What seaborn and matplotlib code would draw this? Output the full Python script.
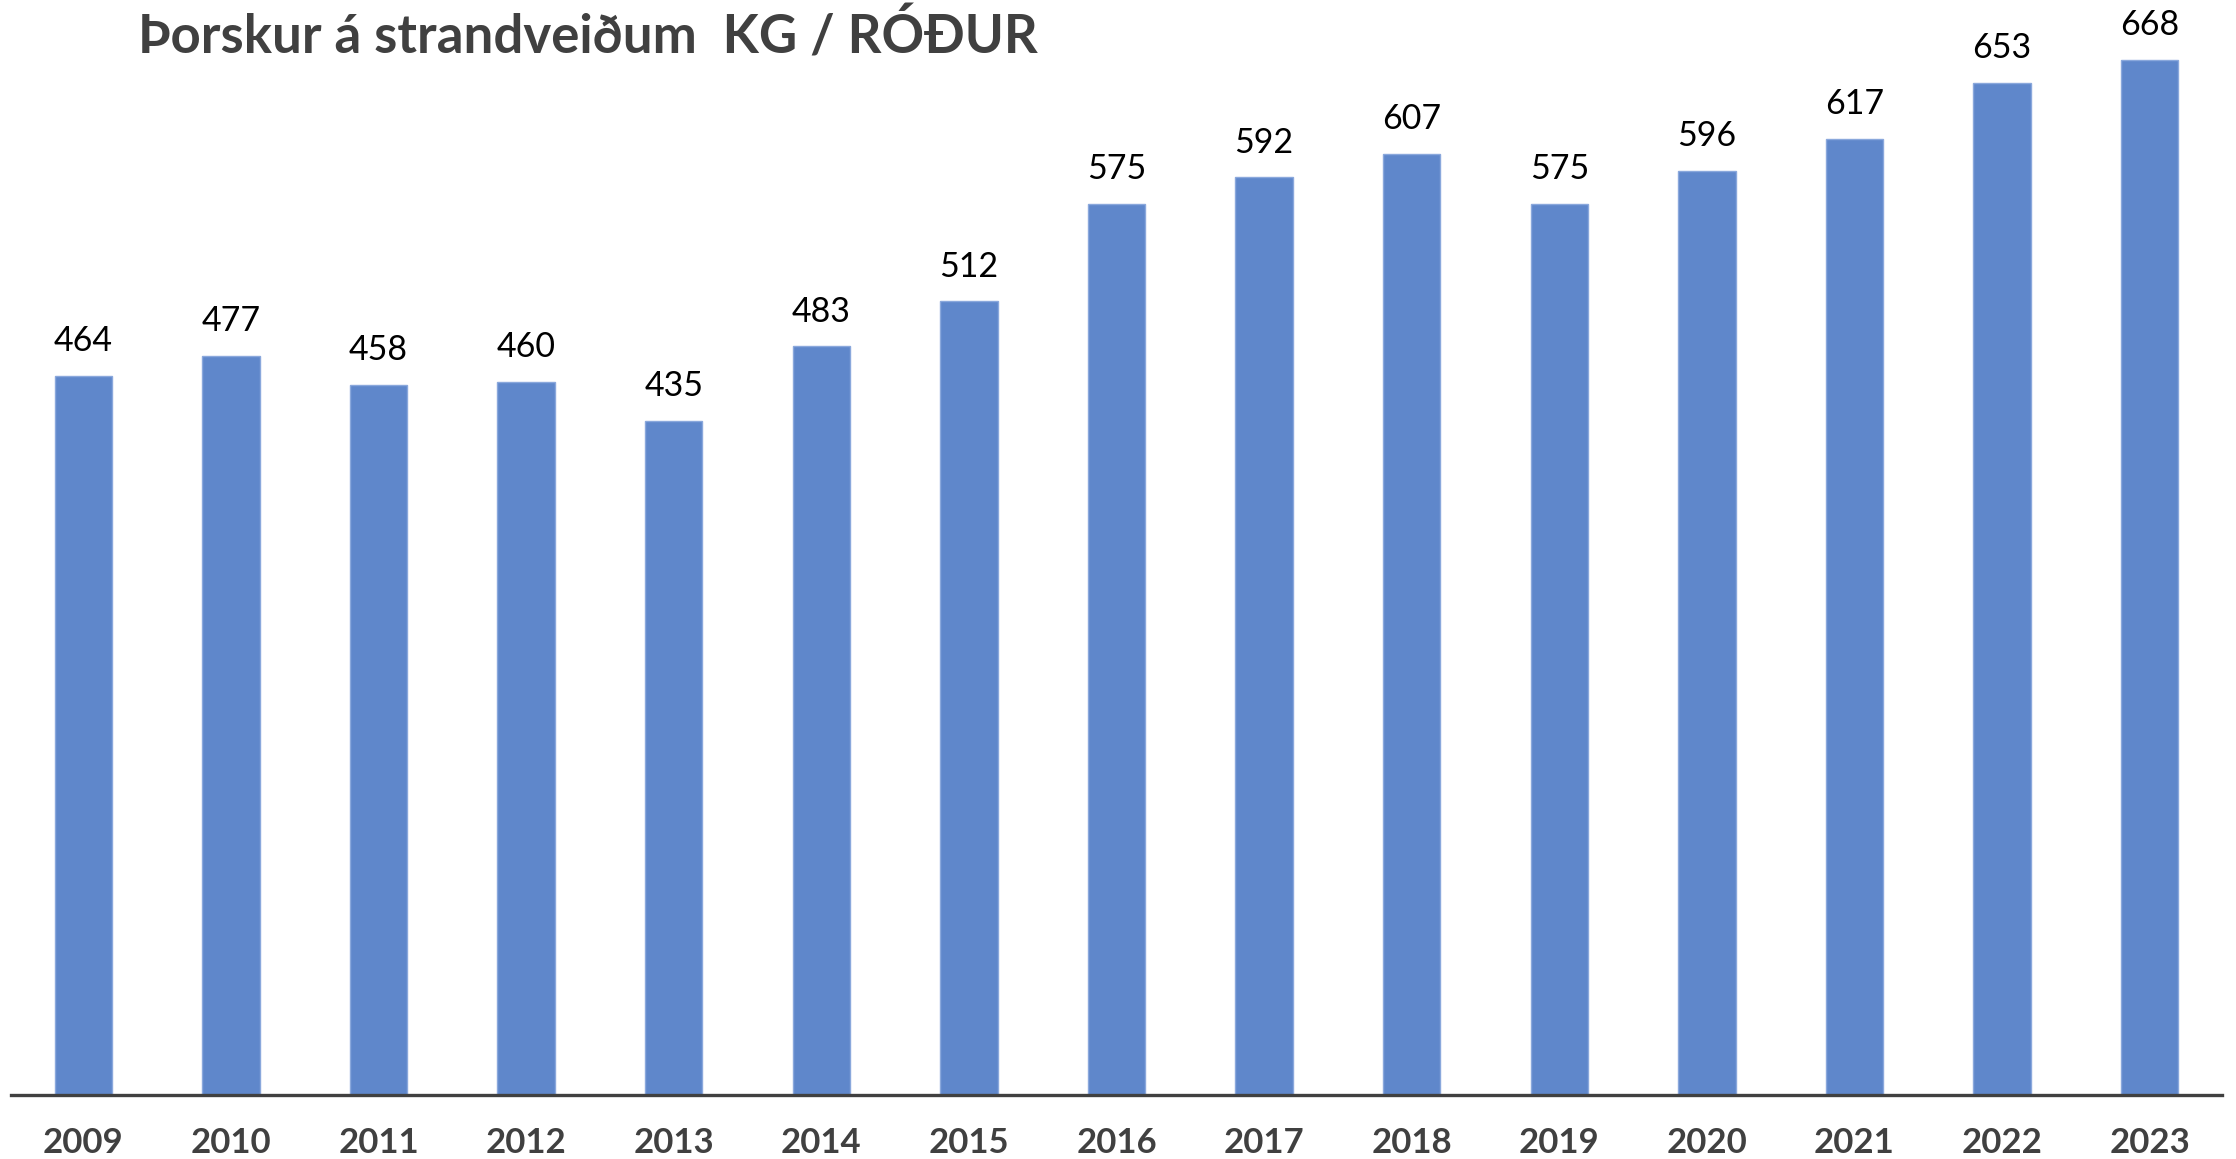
import matplotlib
matplotlib.use("Agg")
import matplotlib.pyplot as plt
import seaborn as sns
import pandas as pd

years = ["2009", "2010", "2011", "2012", "2013", "2014", "2015", "2016",
         "2017", "2018", "2019", "2020", "2021", "2022", "2023"]
kg_per_trip = [464, 477, 458, 460, 435, 483, 512, 575, 592, 607, 575, 596, 617, 653, 668]
title = "Þorskur á strandveiðum  KG / RÓÐUR"

sns.set_theme(style="white")
plt.rcParams["font.family"] = ["Lato", "DejaVu Sans"]

df = pd.DataFrame({"year": years, "kg": kg_per_trip})

fig = plt.figure(figsize=(22.36, 11.59), dpi=100)
ax = fig.add_axes([11 / 2236, 1 - 1095 / 1159, (2222 - 11) / 2236, 1085 / 1159])

sns.barplot(data=df, x="year", y="kg", color="#5F87CB", saturation=1,
            width=0.39, edgecolor="#8AA8DC", linewidth=1, ax=ax)

ax.set_xlim(-0.49, 14.49)
ax.set_ylim(0, 700)
for c in ax.containers:
    ax.bar_label(c, fmt="%d", padding=13.5, fontsize=24.5, color="black")

for s in ["top", "right", "left"]:
    ax.spines[s].set_visible(False)
ax.spines["bottom"].set_color("#404040")
ax.spines["bottom"].set_linewidth(2.4)
ax.set_yticks([])
ax.set_xlabel("")
ax.set_ylabel("")
ax.tick_params(axis="x", length=0, pad=23, labelsize=25, labelcolor="#404040")
for t in ax.get_xticklabels():
    t.set_fontweight("bold")

fig.text(138 / 2236, 1 - 54 / 1159, title, fontsize=38, fontweight="bold",
         color="#404040", va="baseline", ha="left")

fig.savefig("out.png", dpi=100, facecolor="white")
